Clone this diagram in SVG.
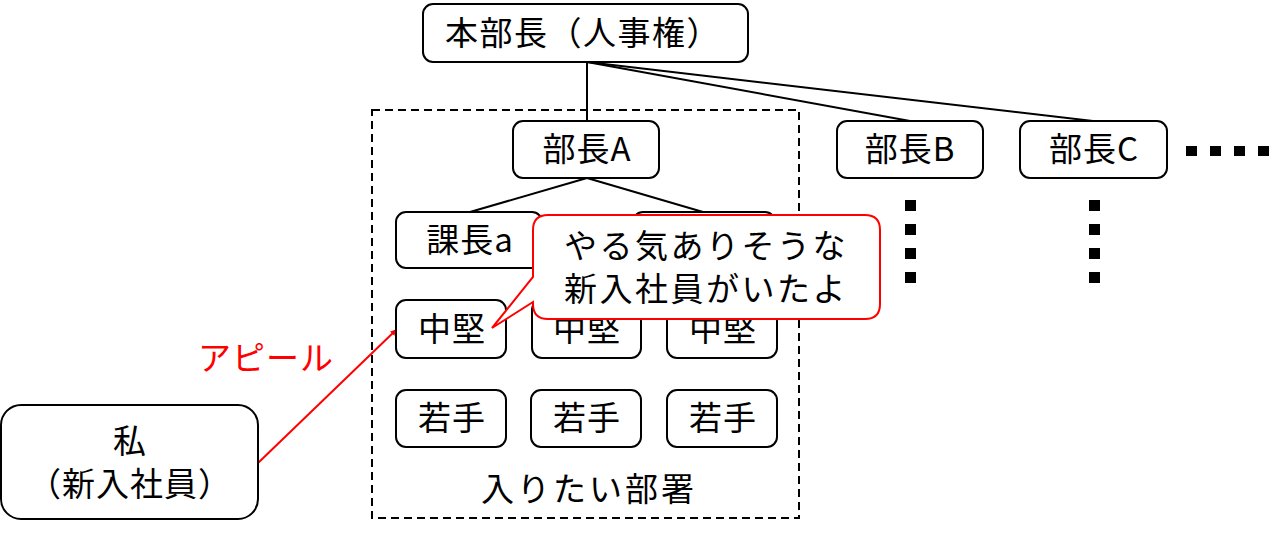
<svg xmlns="http://www.w3.org/2000/svg" width="1280" height="535" viewBox="0 0 1280 535">
<defs>
<style>
.box{fill:#fff;stroke:#000;stroke-width:2}
.t{font-family:"Noto Sans CJK JP","Noto Sans",sans-serif;font-size:33px;fill:#000;text-anchor:middle;letter-spacing:1px}
.red{fill:#ff0000}
.ln{stroke:#000;stroke-width:2;fill:none}
.dot{fill:#000}
</style>
<marker id="ah" viewBox="0 0 10 10" refX="9" refY="5" markerWidth="6" markerHeight="6" orient="auto" markerUnits="userSpaceOnUse">
<path d="M0,0 L10,5 L0,10 z" fill="#ff0000"/>
</marker>
</defs>
<rect fill="#fff" x="0" y="0" width="1280" height="535"/>

<g id="dept-frame">
<rect x="372" y="110" width="427" height="408" fill="none" stroke="#000" stroke-width="2" stroke-dasharray="8,5"/>
<text class="t" x="589" y="501" style="letter-spacing:3px">入りたい部署</text>
</g>

<g id="connectors">
<line class="ln" x1="587" y1="62" x2="587" y2="121"/>
<line class="ln" x1="587" y1="62" x2="910" y2="121"/>
<line class="ln" x1="587" y1="62" x2="1093" y2="121"/>
<line class="ln" x1="587" y1="178" x2="470" y2="212"/>
<line class="ln" x1="587" y1="178" x2="703" y2="212"/>
<line stroke="#ff0000" stroke-width="2" x1="258" y1="463" x2="396" y2="330" marker-end="url(#ah)"/>
</g>

<g id="honbucho">
<rect class="box" x="423" y="4" width="325" height="58" rx="10"/>
<text class="t" x="583" y="45" style="letter-spacing:1.5px">本部長（人事権）</text>
</g>
<g id="buchoA">
<rect class="box" x="513" y="121" width="146" height="57" rx="10"/>
<text class="t" x="587" y="161">部長A</text>
</g>
<g id="buchoB">
<rect class="box" x="837" y="121" width="146" height="57" rx="10"/>
<text class="t" x="910" y="161">部長B</text>
</g>
<g id="buchoC">
<rect class="box" x="1020" y="121" width="147" height="57" rx="10"/>
<text class="t" x="1094" y="161">部長C</text>
</g>
<g id="more-h">
<rect class="dot" x="1186" y="146" width="11" height="10"/>
<rect class="dot" x="1210" y="146" width="11" height="10"/>
<rect class="dot" x="1234" y="146" width="11" height="10"/>
<rect class="dot" x="1258" y="146" width="11" height="10"/>
</g>
<g id="more-B">
<rect class="dot" x="905" y="200" width="11" height="11"/>
<rect class="dot" x="905" y="224" width="11" height="11"/>
<rect class="dot" x="905" y="248" width="11" height="11"/>
<rect class="dot" x="905" y="272" width="11" height="11"/>
</g>
<g id="more-C">
<rect class="dot" x="1089" y="200" width="11" height="11"/>
<rect class="dot" x="1089" y="224" width="11" height="11"/>
<rect class="dot" x="1089" y="248" width="11" height="11"/>
<rect class="dot" x="1089" y="272" width="11" height="11"/>
</g>
<g id="kachoA">
<rect class="box" x="396" y="212" width="146" height="56" rx="10"/>
<text class="t" x="470" y="252">課長a</text>
</g>
<g id="kachoB">
<rect class="box" x="633" y="212" width="142" height="56" rx="10"/>
</g>
<g id="chuken1">
<rect class="box" x="396" y="300" width="110" height="58" rx="10"/>
<text class="t" x="452" y="341">中堅</text>
</g>
<g id="chuken2">
<rect class="box" x="532" y="300" width="109" height="58" rx="10"/>
<text class="t" x="587" y="341">中堅</text>
</g>
<g id="chuken3">
<rect class="box" x="667" y="300" width="110" height="58" rx="10"/>
<text class="t" x="723" y="341">中堅</text>
</g>
<g id="wakate1">
<rect class="box" x="396" y="390" width="110" height="57" rx="10"/>
<text class="t" x="452" y="430">若手</text>
</g>
<g id="wakate2">
<rect class="box" x="531" y="390" width="110" height="57" rx="10"/>
<text class="t" x="587" y="430">若手</text>
</g>
<g id="wakate3">
<rect class="box" x="667" y="390" width="110" height="57" rx="10"/>
<text class="t" x="723" y="430">若手</text>
</g>

<g id="callout">
<path d="M548,215 H865 Q880,215 880,230 V304 Q880,319 865,319 H548 Q533,319 533,304 V302 L492,328 L533,277 V230 Q533,215 548,215 Z" fill="#fff" stroke="#ff0000" stroke-width="2"/>
<text class="t" x="706" y="258" style="letter-spacing:2.5px">やる気ありそうな</text>
<text class="t" x="706" y="301" style="letter-spacing:2.5px">新入社員がいたよ</text>
</g>

<g id="watashi">
<rect class="box" x="1" y="405" width="257" height="114" rx="20"/>
<text class="t" x="130" y="453">私</text>
<text class="t" x="130" y="496">（新入社員）</text>
</g>
<g id="appeal-label">
<text class="t red" x="266" y="370">アピール</text>
</g>
</svg>
